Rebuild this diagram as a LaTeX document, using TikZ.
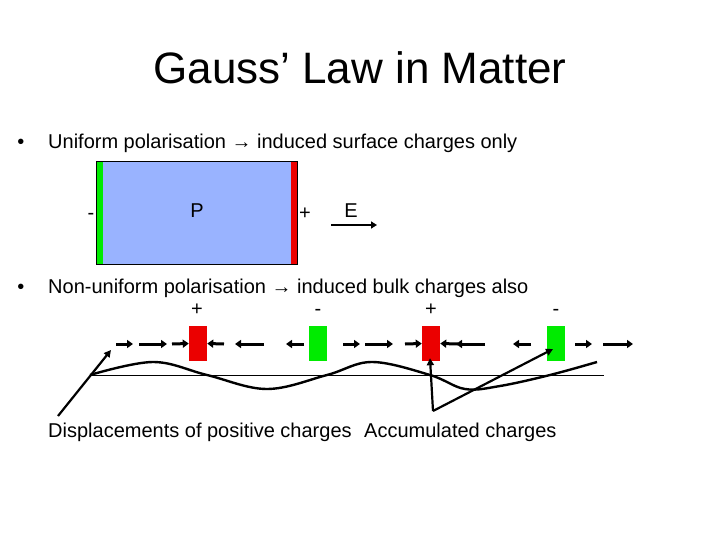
\documentclass[tikz,border=0pt]{standalone}
\usepackage{fontspec}
\setmainfont{Liberation Sans}
\usetikzlibrary{arrows.meta}
\definecolor{pblue}{RGB}{153,179,255}
\definecolor{cred}{RGB}{235,0,0}
\definecolor{cgreen}{RGB}{0,235,0}
\begin{document}
\begin{tikzpicture}[x=1pt,y=-1pt,
  txt/.style={font=\fontsize{20}{24}\selectfont, inner sep=0pt},
  fa/.style={line width=3pt, -{Triangle[length=6pt,width=8pt]}},
  ann/.style={line width=2.2pt, -{Triangle[length=7pt,width=7pt]}},
  chg/.style={minimum width=18pt, minimum height=35pt, inner sep=0pt, draw=none}]
\useasboundingbox (0,0) rectangle (720,540);
\fill[white] (0,0) rectangle (720,540);
% title
\node[font=\fontsize{44}{50}\selectfont, inner sep=0pt] (title) at (360,68) {Gauss’ Law in Matter};
% bullet 1
\node[txt, anchor=base] (b1) at (21,149) {•};
\node[txt, anchor=base west] (l1) at (48,149) {Uniform polarisation → induced surface charges only};
% slab
\node[fill=pblue, minimum width=200pt, minimum height=102pt, inner sep=0pt] (slab) at (197,213) {};
\node[fill=cgreen, minimum width=6pt, minimum height=102pt, inner sep=0pt, anchor=west] (gs) at (slab.west) {};
\node[fill=cred, minimum width=6pt, minimum height=102pt, inner sep=0pt, anchor=east] (rs) at (slab.east) {};
\draw[line width=1pt] (slab.north west) rectangle (slab.south east);
\node[txt, anchor=base] (sm) at (91,219) {-};
\node[txt, anchor=base] (sp) at (305,219) {+};
\node[txt, anchor=base] (P) at (197,218) {P};
\node[txt, anchor=base] (E) at (351,218) {E};
\coordinate (e1) at (331,225); \coordinate (e2) at (377,225);
\draw[line width=2.2pt, -{Triangle[length=6pt,width=7pt]}] (e1) -- (e2);
% bullet 2
\node[txt, anchor=base] (b2) at (21,293) {•};
\node[txt, anchor=base west] (l2) at (48,293) {Non-uniform polarisation → induced bulk charges also};
\node[txt, anchor=base] (s1) at (197,315) {+};
\node[txt, anchor=base] (s2) at (318,315) {-};
\node[txt, anchor=base] (s3) at (431,315) {+};
\node[txt, anchor=base] (s4) at (556,315) {-};
% charges
\node[chg, fill=cred] (r1) at (198,343.5) {};
\node[chg, fill=cgreen] (g1) at (317.5,343.5) {};
\node[chg, fill=cred] (r2) at (431,343.5) {};
\node[chg, fill=cgreen] (g2) at (556,343.5) {};
% arrows row
\draw[fa] (116,344) -- (133,344);
\draw[fa] (139,344) -- (167,344);
\draw[fa] (172,344) -- (r1.west);
\draw[fa] (224,344) -- (r1.east);
\draw[fa] (264,344) -- (235,344);
\draw[fa] (304,344) -- (286,344);
\draw[fa] (343,344) -- (360,344);
\draw[fa] (365,344) -- (393,344);
\draw[fa] (405,344) -- (r2.west);
\draw[fa] (458,344) -- (r2.east);
\draw[fa] (485,344) -- (456,344);
\draw[fa] (531,344) -- (513,344);
\draw[fa] (575,344) -- (592,344);
\draw[fa] (603,344) -- (633,344);
% baseline and wave
\draw[line width=1pt] (92,375) -- (604,375);
\draw[line width=2.4pt] plot[smooth, tension=0.6] coordinates {(90,375) (153,362) (207,375) (267,389) (327,375) (372,362) (430,375) (465,389) (500,386) (550,375) (597,362)};
% annotations
\coordinate (d0) at (58,416); \coordinate (d1) at (111,350);
\draw[ann] (d0) -- (d1);
\coordinate (acc) at (433,411);
\draw[ann] (acc) -- ([xshift=-1pt,yshift=3pt]r2.south);
\draw[ann] (acc) -- ([xshift=-3pt,yshift=-5.5pt]g2.center);
\node[txt, anchor=base west] (t1) at (48,437) {Displacements of positive charges};
\node[txt, anchor=base west] (t2) at (364,437) {Accumulated charges};
\end{tikzpicture}
\end{document}
